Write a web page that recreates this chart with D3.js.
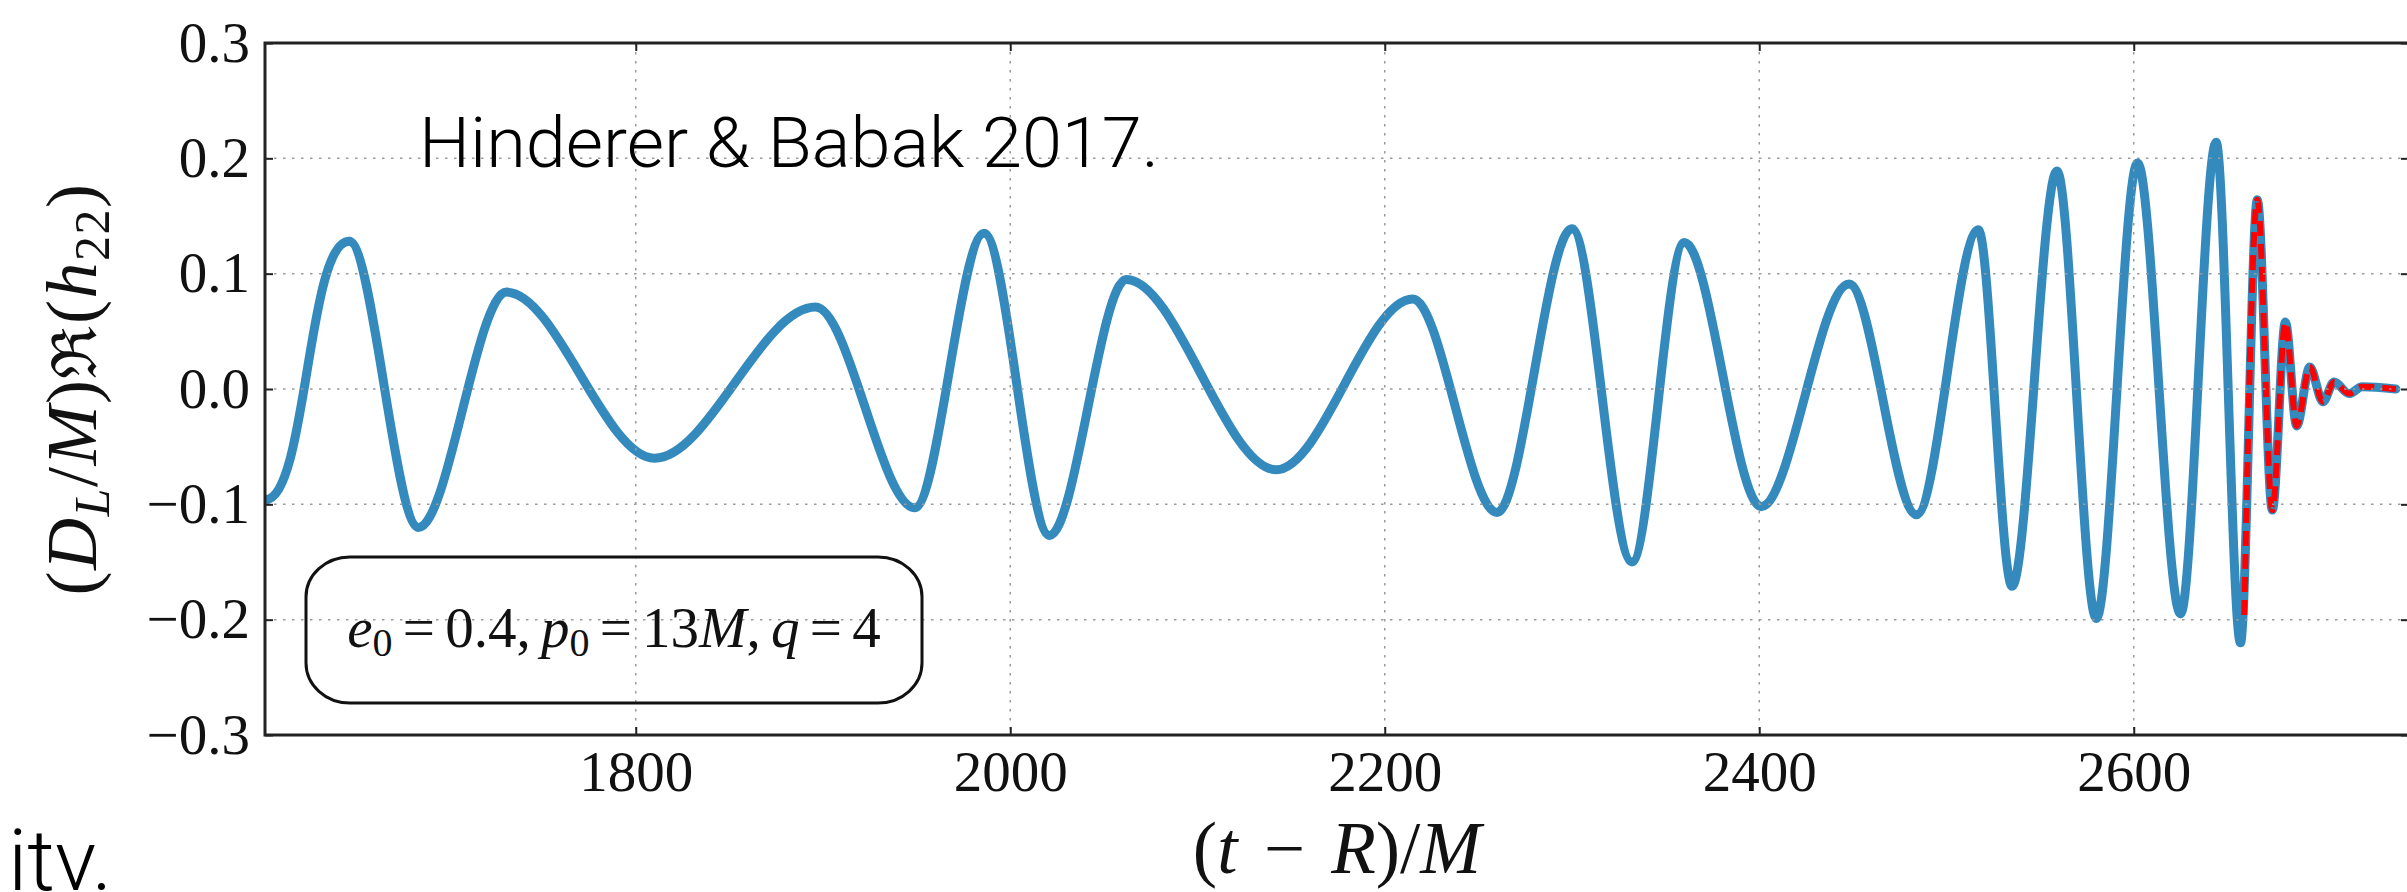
<!DOCTYPE html>
<html>
<head>
<meta charset="utf-8">
<script src="https://cdn.jsdelivr.net/npm/d3@7"></script>
<style>
  html, body { margin: 0; padding: 0; background: #fff; }
  svg { display: block; }
</style>
</head>
<body>
<svg id="chart" width="2407" height="892"></svg>
<script>
// Waveform extrema of Re(h22) (inspiral + merger), time in units of M
const waveT = [1602, 1647, 1684, 1731, 1810, 1896, 1949, 1986, 2021, 2062, 2142, 2215,
               2260, 2300, 2332, 2360, 2401, 2448, 2484, 2517, 2535, 2559, 2580, 2602,
               2625, 2644, 2657, 2666, 2674, 2681, 2687, 2694, 2701, 2707, 2715, 2722, 2740];
const waveH = [-0.096, 0.128, -0.120, 0.084, -0.060, 0.071, -0.103, 0.135, -0.127, 0.095, -0.070, 0.078,
               -0.107, 0.139, -0.150, 0.127, -0.102, 0.091, -0.109, 0.138, -0.171, 0.189, -0.199, 0.196,
               -0.195, 0.214, -0.220, 0.164, -0.105, 0.058, -0.032, 0.019, -0.011, 0.006, -0.004, 0.002, 0.000];

// Ringdown model overlaid from the merger onwards
const ringT = [2659, 2666, 2674, 2681, 2687, 2694, 2701, 2707, 2715, 2722, 2740];
const ringH = [-0.196, 0.164, -0.105, 0.058, -0.032, 0.019, -0.011, 0.006, -0.004, 0.002, 0.000];

const xTicks = [1800, 2000, 2200, 2400, 2600];
const yTicks = [-0.3, -0.2, -0.1, 0.0, 0.1, 0.2, 0.3];
const xDomain = [1602, 2747];
const yDomain = [-0.3, 0.3];

const svg = d3.select("#chart");
const W = 2407, H = 892;
const plot = { left: 265, right: 2409, top: 43, bottom: 735 };

svg.append("rect").attr("width", W).attr("height", H).attr("fill", "#fff");

const x = d3.scaleLinear().domain(xDomain).range([plot.left, plot.right]);
const y = d3.scaleLinear().domain(yDomain).range([plot.bottom, plot.top]);

const serif = "'Liberation Serif', 'DejaVu Serif', serif";
const sans = "Roboto, 'Liberation Sans', Arial, sans-serif";

const defs = svg.append("defs");
defs.append("clipPath").attr("id", "plotclip")
  .append("rect")
  .attr("x", plot.left).attr("y", plot.top)
  .attr("width", plot.right - plot.left).attr("height", plot.bottom - plot.top);
// Region after the first turning point, where the monotone spline takes over
defs.append("clipPath").attr("id", "restclip")
  .append("rect")
  .attr("x", x(waveT[1])).attr("y", 0)
  .attr("width", W).attr("height", H);

// Curves. The opening sample sits at a trough, so the first half-cycle gets
// horizontal tangents at both ends; the rest is a monotone cubic through the extrema.
const lineMono = d3.line().x(d => x(d[0])).y(d => y(d[1])).curve(d3.curveMonotoneX);
const lineBump = d3.line().x(d => x(d[0])).y(d => y(d[1])).curve(d3.curveBumpX);
const wave = waveT.map((t, i) => [t, waveH[i]]);
const ring = ringT.map((t, i) => [t, ringH[i]]);

const curves = svg.append("g").attr("clip-path", "url(#plotclip)");
const blue = g => g.attr("fill", "none")
  .attr("stroke", "#348ABD")
  .attr("stroke-width", 9)
  .attr("stroke-linejoin", "round")
  .attr("stroke-linecap", "round");
curves.append("path").datum(wave.slice(0, 2)).attr("d", lineBump).call(blue);
curves.append("g").attr("clip-path", "url(#restclip)")
  .append("path").datum(wave).attr("d", lineMono).call(blue);
curves.append("path").datum(ring)
  .attr("d", lineMono)
  .attr("fill", "none")
  .attr("stroke", "#ff0000")
  .attr("stroke-width", 6)
  .attr("stroke-dasharray", "15,8");

// Dotted grid, drawn above the curves
const grid = svg.append("g");
grid.selectAll("line.gx").data(xTicks).join("line")
  .attr("x1", d => x(d)).attr("x2", d => x(d))
  .attr("y1", plot.top).attr("y2", plot.bottom)
  .attr("stroke", "#9a9a9a").attr("stroke-width", 1.5).attr("stroke-dasharray", "2.5,6.5");
grid.selectAll("line.gy").data(yTicks.filter(v => v > yDomain[0] && v < yDomain[1])).join("line")
  .attr("x1", plot.left).attr("x2", plot.right)
  .attr("y1", d => y(d)).attr("y2", d => y(d))
  .attr("stroke", "#9a9a9a").attr("stroke-width", 1.5).attr("stroke-dasharray", "2.5,6.5");

// Axes with inward ticks on all four sides
const fmtY = d3.format(".1f");
const axB = svg.append("g").attr("transform", `translate(0,${plot.bottom})`)
  .call(d3.axisBottom(x).tickValues(xTicks).tickFormat(d3.format("d")).tickSize(-8).tickPadding(16));
const axT = svg.append("g").attr("transform", `translate(0,${plot.top})`)
  .call(d3.axisTop(x).tickValues(xTicks).tickFormat("").tickSize(-8));
const axL = svg.append("g").attr("transform", `translate(${plot.left},0)`)
  .call(d3.axisLeft(y).tickValues(yTicks).tickFormat(fmtY).tickSize(-8).tickPadding(15));
const axR = svg.append("g").attr("transform", `translate(${plot.right},0)`)
  .call(d3.axisRight(y).tickValues(yTicks).tickFormat("").tickSize(-8));

[axB, axT, axL, axR].forEach(a => {
  a.select(".domain").remove();
  a.selectAll(".tick line").attr("stroke", "#222").attr("stroke-width", 2);
  a.selectAll(".tick text").attr("font-family", serif).attr("font-size", 57).attr("fill", "#111");
});

// Frame
svg.append("rect")
  .attr("x", plot.left).attr("y", plot.top)
  .attr("width", plot.right - plot.left).attr("height", plot.bottom - plot.top)
  .attr("fill", "none").attr("stroke", "#222").attr("stroke-width", 3);

// Axis titles
const xl = svg.append("text")
  .attr("x", (plot.left + plot.right) / 2).attr("y", 873)
  .attr("text-anchor", "middle")
  .attr("font-family", serif).attr("font-size", 73).attr("word-spacing", 8)
  .attr("fill", "#111");
xl.append("tspan").text("(");
xl.append("tspan").attr("font-style", "italic").text("t");
xl.append("tspan").text(" − ");
xl.append("tspan").attr("font-style", "italic").text("R");
xl.append("tspan").text(")/");
xl.append("tspan").attr("font-style", "italic").text("M");

const yl = svg.append("text")
  .attr("transform", `translate(96,${(plot.top + plot.bottom) / 2}) rotate(-90)`)
  .attr("text-anchor", "middle")
  .attr("font-family", serif).attr("font-size", 72).attr("letter-spacing", 1.5)
  .attr("fill", "#111");
yl.append("tspan").text("(");
yl.append("tspan").attr("font-style", "italic").text("D");
yl.append("tspan").attr("font-style", "italic").attr("font-size", 50).attr("dy", 13).text("L");
yl.append("tspan").attr("dy", -13).text("/");
yl.append("tspan").attr("font-style", "italic").text("M");
yl.append("tspan").text(")");
yl.append("tspan").attr("font-family", "'DejaVu Serif', serif").attr("font-size", 62).text("ℜ");
yl.append("tspan").text("(");
yl.append("tspan").attr("font-style", "italic").text("h");
yl.append("tspan").attr("font-size", 50).attr("dy", 13).text("22");
yl.append("tspan").attr("dy", -13).text(")");

// Parameter box
svg.append("rect")
  .attr("x", 306).attr("y", 557).attr("width", 616).attr("height", 146)
  .attr("rx", 44).attr("ry", 40)
  .attr("fill", "none").attr("stroke", "#111").attr("stroke-width", 3);
const bt = svg.append("text")
  .attr("x", 614).attr("y", 647)
  .attr("text-anchor", "middle")
  .attr("font-family", serif).attr("font-size", 57).attr("word-spacing", -4)
  .attr("fill", "#111");
bt.append("tspan").attr("font-style", "italic").text("e");
bt.append("tspan").attr("font-size", 40).attr("dy", 9).text("0");
bt.append("tspan").attr("dy", -9).text(" = 0.4, ");
bt.append("tspan").attr("font-style", "italic").text("p");
bt.append("tspan").attr("font-size", 40).attr("dy", 9).text("0");
bt.append("tspan").attr("dy", -9).text(" = 13");
bt.append("tspan").attr("font-style", "italic").text("M");
bt.append("tspan").text(", ");
bt.append("tspan").attr("font-style", "italic").text("q");
bt.append("tspan").text(" = 4");

// Citation and trailing caption fragment
svg.append("text")
  .attr("x", 419).attr("y", 167)
  .attr("font-family", sans).attr("font-weight", 300).attr("font-size", 70)
  .attr("textLength", 740).attr("lengthAdjust", "spacingAndGlyphs")
  .attr("fill", "#000")
  .text("Hinderer & Babak 2017.");

svg.append("text")
  .attr("x", 8).attr("y", 890)
  .attr("font-family", sans).attr("font-weight", 300).attr("font-size", 86)
  .attr("fill", "#000")
  .text("itv.");
</script>
</body>
</html>
